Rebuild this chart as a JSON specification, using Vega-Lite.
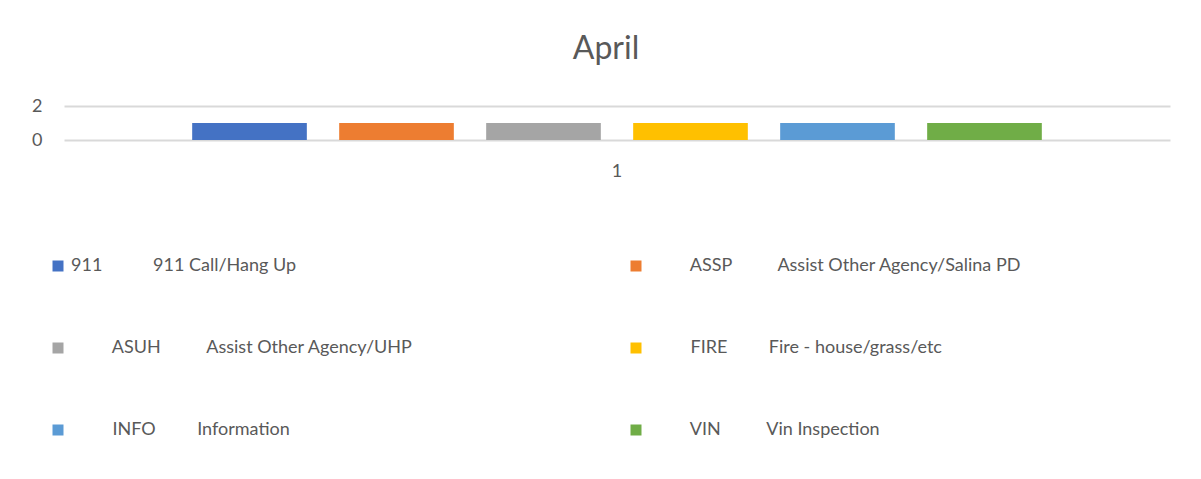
{
  "$schema": "https://vega.github.io/schema/vega-lite/v6.json",
  "autosize": {"type": "none"},
  "width": 1106,
  "height": 34,
  "padding": {"left": 64, "top": 106, "right": 31, "bottom": 339},
  "background": "#ffffff",
  "title": {"text": "April", "fontSize": 32, "font": "Lato", "fontWeight": "normal", "color": "#595959", "offset": 31, "anchor": "middle", "dx": -11},
  "data": {"values": [
    {"cat": "1", "code": "911", "label": "911\u00a0\u00a0\u00a0\u00a0\u00a0\u00a0\u00a0\u00a0\u00a0\u00a0\u00a0911 Call/Hang Up", "value": 1},
    {"cat": "1", "code": "ASSP", "label": "\u200b\u00a0\u00a0\u00a0\u00a0\u00a0\u00a0\u00a0\u00a0\u00a0ASSP\u00a0\u00a0\u00a0\u00a0\u00a0\u00a0\u00a0\u00a0\u00a0\u00a0Assist Other Agency/Salina PD", "value": 1},
    {"cat": "1", "code": "ASUH", "label": "\u200b\u00a0\u00a0\u00a0\u00a0\u00a0\u00a0\u00a0\u00a0\u00a0ASUH\u00a0\u00a0\u00a0\u00a0\u00a0\u00a0\u00a0\u00a0\u00a0\u00a0Assist Other Agency/UHP", "value": 1},
    {"cat": "1", "code": "FIRE", "label": "\u200b\u00a0\u00a0\u00a0\u00a0\u00a0\u00a0\u00a0\u00a0\u00a0FIRE\u00a0\u00a0\u00a0\u00a0\u00a0\u00a0\u00a0\u00a0\u00a0Fire - house/grass/etc", "value": 1},
    {"cat": "1", "code": "INFO", "label": "\u200b\u00a0\u00a0\u00a0\u00a0\u00a0\u00a0\u00a0\u00a0\u00a0INFO\u00a0\u00a0\u00a0\u00a0\u00a0\u00a0\u00a0\u00a0\u00a0Information", "value": 1},
    {"cat": "1", "code": "VIN", "label": "\u200b\u00a0\u00a0\u00a0\u00a0\u00a0\u00a0\u00a0\u00a0\u00a0VIN\u00a0\u00a0\u00a0\u00a0\u00a0\u00a0\u00a0\u00a0\u00a0\u00a0Vin Inspection", "value": 1}
  ]},
  "mark": {"type": "bar"},
  "encoding": {
    "x": {"field": "cat", "type": "nominal", "title": null,
      "scale": {"paddingInner": 0, "paddingOuter": 0.127},
      "axis": {"labelAngle": 0, "domain": false, "ticks": false, "labelPadding": 22, "labelFontSize": 18, "labelFont": "Lato", "labelColor": "#595959"}},
    "xOffset": {"field": "label", "type": "nominal", "sort": null,
      "scale": {"paddingInner": 0.22, "paddingOuter": 0.11}},
    "y": {"field": "value", "type": "quantitative", "title": null,
      "scale": {"domain": [0, 2], "nice": false},
      "axis": {"values": [0, 2], "domain": false, "ticks": false, "labelPadding": 22, "labelFontSize": 18, "labelFont": "Lato", "labelColor": "#595959", "gridColor": "#d9d9d9", "gridWidth": 2}},
    "color": {"field": "label", "type": "nominal", "sort": null,
      "scale": {"range": ["#4472C4", "#ED7D31", "#A5A5A5", "#FFC000", "#5B9BD5", "#70AD47"]},
      "legend": {"title": null, "orient": "none", "legendX": -15, "legendY": 151, "direction": "horizontal", "columns": 2, "columnPadding": 183, "rowPadding": 64, "symbolType": "square", "symbolSize": 121, "symbolStrokeWidth": 0, "symbolOpacity": 1, "labelFontSize": 18, "labelFont": "Lato", "labelColor": "#595959", "labelOffset": 4, "labelLimit": 0, "gridAlign": "all"}}
  },
  "config": {"view": {"stroke": null}}
}
